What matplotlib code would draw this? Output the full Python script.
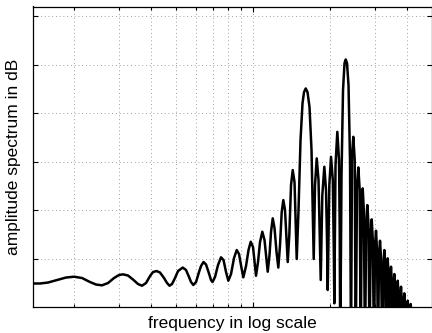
import matplotlib
matplotlib.use("Agg")
import matplotlib.pyplot as plt
from matplotlib.ticker import LogLocator, NullFormatter, FixedLocator

plt.rcParams['font.family'] = ['Liberation Sans', 'DejaVu Sans']

# frequency (arbitrary units, log axis) and amplitude spectrum (dB)
freq = [1.382, 1.472, 1.582, 1.715, 1.860, 1.999, 2.148, 2.308, 2.436, 2.571,
        2.714, 2.864, 2.996, 3.106, 3.249, 3.398, 3.554, 3.685, 3.820, 3.960,
        4.068, 4.198, 4.332, 4.491, 4.614, 4.719, 4.826, 4.958, 5.094, 5.314,
        5.474, 5.623, 5.726, 5.845, 5.989, 6.153, 6.265, 6.407, 6.553, 6.701,
        6.854, 6.947, 7.105, 7.299, 7.499, 7.670, 7.844, 8.008, 8.205, 8.429,
        8.636, 8.817, 9.017, 9.164, 9.390, 9.603, 9.795, 10.000, 10.154, 10.273,
        10.460, 10.650, 10.872, 11.090, 11.271, 11.414, 11.600, 11.757, 11.939, 12.133,
        12.354, 12.555, 12.749, 12.945, 13.133, 13.335, 13.516, 13.663, 13.861, 14.075,
        14.292, 14.525, 14.696, 14.815, 15.057, 15.330, 15.609, 15.821, 16.064, 16.327,
        16.623, 16.925, 17.124, 17.263, 17.466, 17.735, 18.025, 18.237, 18.385, 18.651,
        18.990, 19.283, 19.457, 19.580, 19.864, 20.170, 20.499, 20.684, 20.777, 21.003,
        21.346, 21.675, 21.812, 21.910, 22.167, 22.469, 22.774, 23.021, 23.292, 23.608,
        23.929, 24.145, 24.363, 24.650, 24.962, 25.188, 25.484, 25.783, 26.110, 26.346,
        26.584, 26.824, 27.091, 27.385, 27.682, 27.957, 28.261, 28.516, 28.826, 29.086,
        29.375, 29.694, 29.962, 30.233, 30.506, 30.782, 31.060, 31.340, 31.624, 31.967,
        32.314, 32.576, 32.841, 33.078, 33.347, 33.588, 33.830, 34.075, 34.352, 34.600,
        34.850, 35.101, 35.387, 35.642, 35.900, 36.159, 36.486, 36.749, 37.015, 37.282,
        37.585, 37.857, 38.130, 38.405, 38.717, 38.997, 39.279, 39.562, 39.920, 40.208,
        40.498, 40.791, 41.049, 41.308, 41.569, 41.794]

level_db = [-55.15, -55.15, -54.95, -54.43, -53.92, -53.75, -54.02, -54.85, -55.36, -55.53,
            -55.05, -54.02, -53.40, -53.26, -53.51, -54.33, -55.26, -55.61, -55.05, -53.61,
            -52.78, -52.58, -52.89, -54.02, -55.05, -55.61, -55.26, -54.02, -52.58, -51.86,
            -52.37, -53.81, -54.85, -55.46, -54.85, -52.78, -51.55, -50.72, -51.24, -52.78,
            -54.43, -54.85, -53.81, -51.34, -49.75, -50.31, -52.78, -54.58, -53.20, -49.90,
            -48.25, -49.07, -51.96, -53.88, -51.55, -48.25, -46.54, -47.63, -50.93, -53.55,
            -50.72, -46.60, -44.47, -46.19, -49.90, -52.72, -49.28, -44.54, -41.71, -43.71,
            -48.66, -51.86, -47.22, -40.41, -37.94, -40.00, -46.19, -50.72, -45.15, -34.85,
            -31.75, -34.23, -44.12, -50.10, -40.00, -25.57, -17.94, -15.67, -14.91, -15.67,
            -18.76, -27.63, -41.03, -50.10, -34.85, -29.34, -33.81, -46.19, -54.43, -36.91,
            -31.07, -35.88, -46.19, -56.49, -34.85, -29.01, -33.81, -48.25, -59.24, -30.72,
            -23.86, -29.69, -44.12, -70.00, -32.78, -15.26, -9.69, -8.93, -9.69, -14.23,
            -29.69, -70.00, -28.66, -24.89, -29.69, -70.00, -34.85, -31.20, -35.88, -70.00,
            -38.97, -35.53, -40.00, -70.00, -42.47, -38.97, -43.09, -70.00, -45.15, -41.92,
            -46.19, -70.00, -47.22, -44.27, -48.25, -70.00, -49.48, -46.33, -49.90, -70.00,
            -51.34, -48.25, -51.96, -70.00, -52.78, -49.96, -53.40, -70.00, -54.43, -51.69,
            -55.05, -70.00, -56.08, -53.20, -56.49, -70.00, -57.32, -54.58, -57.73, -70.00,
            -58.35, -55.81, -58.97, -70.00, -59.59, -57.18, -60.21, -70.00, -60.62, -58.70,
            -61.03, -70.00, -61.03, -59.38, -61.65, -70.00]

y_ticks = [-50, -40, -30, -20, -10, 0]

n = min(len(freq), len(level_db))

fig = plt.figure(figsize=(4.32, 3.33), dpi=100)
ax = fig.add_axes([33 / 432, 1 - 307 / 333, 398.5 / 432, 300.5 / 333])

ax.plot(freq[:n], level_db[:n], color='black', linewidth=1.8, solid_joinstyle='round')

ax.set_xscale('log')
ax.set_xlim(1.382, 49.8)
ax.set_ylim(-60, 2)

ax.xaxis.set_major_locator(FixedLocator([10]))
ax.xaxis.set_minor_locator(LogLocator(base=10, subs=[2, 3, 4, 5, 6, 7, 8, 9], numticks=20))
ax.xaxis.set_major_formatter(NullFormatter())
ax.xaxis.set_minor_formatter(NullFormatter())
ax.yaxis.set_major_locator(FixedLocator(y_ticks))
ax.yaxis.set_major_formatter(NullFormatter())

ax.grid(True, which='both', axis='x', color='0.5', linewidth=0.6, linestyle=(0, (1, 3.5)))
ax.grid(True, which='major', axis='y', color='0.5', linewidth=0.6, linestyle=(0, (1, 3.5)))

ax.tick_params(which='both', direction='in', top=True, right=True, width=0.8, color='black')
ax.tick_params(which='major', length=3.5)
ax.tick_params(which='minor', length=2)

for s in ax.spines.values():
    s.set_linewidth(0.9)
    s.set_color('black')

ax.set_xlabel('frequency in log scale', fontsize=12.5, labelpad=3)
ax.set_ylabel('amplitude spectrum in dB', fontsize=12.5, labelpad=5)

fig.savefig('out.png', dpi=100)
